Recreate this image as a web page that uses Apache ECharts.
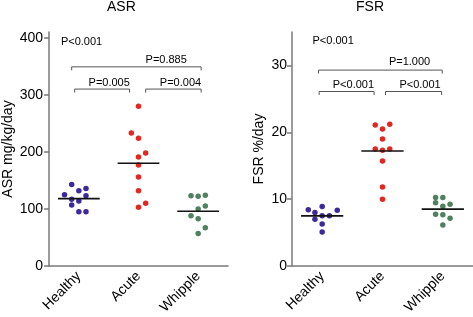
<!DOCTYPE html>
<html>
<head>
<meta charset="utf-8">
<script src="https://cdn.jsdelivr.net/npm/echarts@6/dist/echarts.min.js"></script>
<style>
  html, body { margin: 0; padding: 0; background: #fff; }
  #chart { width: 473px; height: 317px; }
</style>
</head>
<body>
<div id="chart"></div>
<script>
// groups on the x axis
var groups = ["Healthy", "Acute", "Whipple"];

// ASR mg/kg/day
var asrHealthy = [143, 132, 136, 125, 123, 117, 114, 107, 95, 95];
var asrAcute = [280, 233, 224, 198, 191, 177, 156, 132, 110, 103];
var asrWhipple = [123, 122, 124, 105, 100, 88, 83, 67, 57];
var asrMedian = [118, 180, 96];

// FSR %/day
var fsrHealthy = [8.4, 8.0, 8.9, 8.35, 7.0, 7.5, 7.5, 6.3, 5.1];
var fsrAcute = [21.1, 21.2, 20.5, 19.0, 17.5, 17.3, 17.5, 15.7, 11.8, 10.0];
var fsrWhipple = [10.25, 10.25, 9.45, 8.95, 9.25, 7.75, 7.65, 7.15, 6.15];
var fsrMedian = [7.5, 17.2, 8.5];

// horizontal jitter of the dots (fraction of a category)
var jitAsrHealthy = [-0.12, 0, 0.12, -0.24, 0.12, -0.12, 0, -0.12, 0, 0.12];
var jitAsrAcute = [0, -0.12, 0, 0.12, 0, 0, 0, 0, 0.12, 0];
var jitAsrWhipple = [-0.12, 0, 0.12, 0.12, 0, -0.12, 0, 0.12, 0];
var jitFsrHealthy = [-0.23, -0.12, 0, 0.25, -0.12, 0, 0.12, 0, 0];
var jitFsrAcute = [-0.12, 0.12, 0, 0, -0.12, 0, 0.12, 0, 0, 0];
var jitFsrWhipple = [-0.12, 0, -0.12, 0, 0.12, -0.12, 0, 0.12, 0];

var asrTicks = [0, 100, 200, 300, 400];
var fsrTicks = [0, 10, 20, 30];

// significance brackets [from, to, level] and labels [text, x, y, align]
var asrBrackets = [[-0.12, 2.05, 349], [-0.07, 0.85, 310], [1.12, 2.05, 310]];
var asrLabels = [["P<0.001", -0.3, 393, "left"], ["P=0.885", 1.81, 361, "right"],
                 ["P=0.005", 0.855, 321, "right"], ["P=0.004", 2.05, 321, "right"]];
var fsrBrackets = [[-0.06, 1.99, 29.3], [-0.05, 0.86, 26.1], [1.05, 1.98, 26.1]];
var fsrLabels = [["P<0.001", -0.16, 33.6, "left"], ["P=1.000", 1.79, 30.5, "right"],
                 ["P<0.001", 0.86, 27.1, "right"], ["P<0.001", 1.965, 27.1, "right"]];

var colors = ["#3b2a9c", "#e3261f", "#4f8060"];
var font = "'Liberation Sans', Arial, sans-serif";
var axisColor = "#7a7a7a";

function points(values, jitter, idx) {
  return values.map(function (v, i) { return [idx + jitter[i], v]; });
}

function dotSeries(values, jitter, idx, axis) {
  return {
    type: "scatter",
    xAxisIndex: axis.x,
    yAxisIndex: axis.y,
    symbolSize: 5.5,
    itemStyle: { color: colors[idx], opacity: 1 },
    data: points(values, jitter, idx),
    z: 3,
  };
}

function medianSeries(medians, axis) {
  return {
    type: "custom",
    xAxisIndex: axis.x,
    yAxisIndex: axis.y,
    z: 5,
    data: medians.map(function (m, i) { return [i, m]; }),
    renderItem: function (params, api) {
      var a = api.coord([api.value(0) - 0.35, api.value(1)]);
      var b = api.coord([api.value(0) + 0.35, api.value(1)]);
      return {
        type: "line",
        shape: { x1: a[0], y1: a[1], x2: b[0], y2: b[1] },
        style: { stroke: "#111", lineWidth: 1.6 },
      };
    },
  };
}

function bracketSeries(brackets, axis) {
  return {
    type: "custom",
    xAxisIndex: axis.x,
    yAxisIndex: axis.y,
    silent: true,
    data: brackets,
    renderItem: function (params, api) {
      var a = api.coord([api.value(0), api.value(2)]);
      var b = api.coord([api.value(1), api.value(2)]);
      return {
        type: "polyline",
        shape: { points: [[a[0], a[1] + 3.5], a, b, [b[0], b[1] + 3.5]] },
        style: { stroke: "#555", lineWidth: 1, fill: null },
      };
    },
  };
}

function labelSeries(labels, axis) {
  return {
    type: "custom",
    xAxisIndex: axis.x,
    yAxisIndex: axis.y,
    silent: true,
    data: labels.map(function (l) { return [l[1], l[2]]; }),
    renderItem: function (params, api) {
      var p = api.coord([api.value(0), api.value(1)]);
      var l = labels[params.dataIndex];
      return {
        type: "text",
        x: p[0],
        y: p[1],
        style: {
          text: l[0],
          fill: "#000",
          font: "11px " + font,
          align: l[3],
          verticalAlign: "middle",
        },
      };
    },
  };
}

function catAxis(grid) {
  return {
    type: "category",
    gridIndex: grid,
    data: groups,
    boundaryGap: true,
    axisLine: { onZero: false, lineStyle: { color: axisColor, width: 1.5 } },
    axisTick: { alignWithLabel: true, length: 5, lineStyle: { color: axisColor, width: 1.5 } },
    axisLabel: { rotate: 45, margin: 8, color: "#000", fontSize: 14, fontFamily: font },
  };
}

function posAxis(grid) {
  return {
    type: "value", gridIndex: grid, min: -0.5, max: 2.5, show: false,
    axisLine: { show: false, onZero: false }, splitLine: { show: false },
  };
}

function valAxis(grid, max, ticks, name, gap, margin) {
  return {
    type: "value",
    gridIndex: grid,
    min: 0,
    max: max,
    name: name,
    nameLocation: "middle",
    nameGap: gap,
    nameTextStyle: { color: "#000", fontSize: 14, fontFamily: font },
    splitLine: { show: false },
    axisLine: { show: true, onZero: false, lineStyle: { color: axisColor, width: 1.5 } },
    axisTick: { show: true, length: 5, customValues: ticks, lineStyle: { color: axisColor, width: 1.5 } },
    axisLabel: { customValues: ticks, margin: margin, color: "#000", fontSize: 14, fontFamily: font },
  };
}

var L = { x: 2, y: 0 };
var R = { x: 3, y: 1 };

var option = {
  animation: false,
  title: [
    { text: "ASR", left: 107, top: 0, padding: 0, textStyle: { fontSize: 14, fontWeight: "normal", color: "#000", fontFamily: font } },
    { text: "FSR", left: 356, top: 0, padding: 0, textStyle: { fontSize: 14, fontWeight: "normal", color: "#000", fontFamily: font } },
  ],
  grid: [
    { left: 48, top: 32, width: 180, bottom: 51 },
    { left: 292, top: 32, width: 181, bottom: 51 },
  ],
  xAxis: [catAxis(0), catAxis(1), posAxis(0), posAxis(1)],
  yAxis: [
    valAxis(0, 410, asrTicks, "ASR mg/kg/day", 34, 6),
    valAxis(1, 35, fsrTicks, "FSR %/day", 26, 5),
  ],
  series: [
    dotSeries(asrHealthy, jitAsrHealthy, 0, L),
    dotSeries(asrAcute, jitAsrAcute, 1, L),
    dotSeries(asrWhipple, jitAsrWhipple, 2, L),
    medianSeries(asrMedian, L),
    bracketSeries(asrBrackets, L),
    labelSeries(asrLabels, L),
    dotSeries(fsrHealthy, jitFsrHealthy, 0, R),
    dotSeries(fsrAcute, jitFsrAcute, 1, R),
    dotSeries(fsrWhipple, jitFsrWhipple, 2, R),
    medianSeries(fsrMedian, R),
    bracketSeries(fsrBrackets, R),
    labelSeries(fsrLabels, R),
  ],
};

var chart = echarts.init(document.getElementById("chart"));
chart.setOption(option);
</script>
</body>
</html>
